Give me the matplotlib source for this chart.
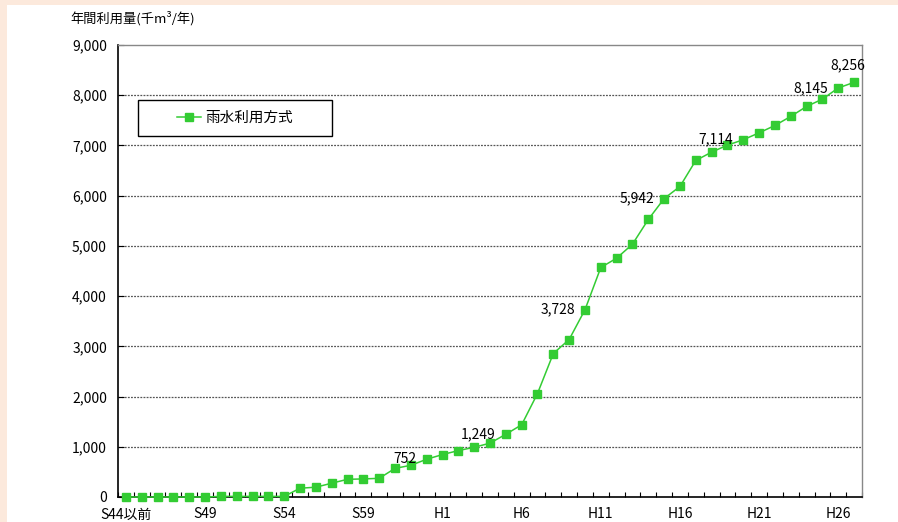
import matplotlib
matplotlib.use("Agg")
import matplotlib.pyplot as plt
from matplotlib.patches import Rectangle

FONT = ['Noto Sans CJK JP', 'DejaVu Sans']
plt.rcParams['font.family'] = FONT

# ---- data ----
years = (["S44以前"] + [f"S{n}" for n in range(45, 64)] +
         [f"H{n}" for n in range(1, 28)])
values = [0, 0, 0, 0, 0, 0, 12, 12, 12, 12, 12,
          175, 195, 275, 352, 360, 372, 570, 631, 752,
          845, 924, 990, 1072, 1249, 1438, 2060, 2857, 3136, 3728,
          4570, 4755, 5034, 5526, 5942, 6183, 6701, 6867, 7006, 7114,
          7251, 7398, 7578, 7777, 7922, 8145, 8256]
tick_labels = ["S44以前", "S49", "S54", "S59", "H1", "H6", "H11", "H16", "H21", "H26"]
annotated = ["S63", "H5", "H10", "H15", "H20", "H26", "H27"]
series_name = "雨水利用方式"
y_title = "年間利用量(千m³/年)"

W, H = 898, 522
fig = plt.figure(figsize=(W / 100, H / 100), dpi=100)
fig.patch.set_facecolor("white")
# peach border strips
fig.patches.append(Rectangle((0, 0), 7 / W, 1, transform=fig.transFigure,
                             facecolor="#FCE9DC", edgecolor="none", zorder=0))
fig.patches.append(Rectangle((0, 1 - 5 / H), 1, 5 / H, transform=fig.transFigure,
                             facecolor="#FCE9DC", edgecolor="none", zorder=0))

left, right, top, bottom = 118, 862, 45, 497
ax = fig.add_axes([left / W, 1 - bottom / H, (right - left) / W, (bottom - top) / H])

x = list(range(len(years)))
green = "#33CC33"
ax.plot(x, values, color=green, lw=1.1, marker="s", markersize=5.8,
        markerfacecolor=green, markeredgecolor=green, label=series_name,
        zorder=3, clip_on=False)

ax.set_xlim(-0.5, len(years) - 0.5)
ax.set_ylim(0, 9000)

# y axis
yt = list(range(0, 9001, 1000))
ax.set_yticks(yt)
ax.set_yticklabels([f"{v:,}" for v in yt], fontsize=10, family=FONT)
ax.tick_params(axis="y", direction="in", length=4, width=0.8, pad=8, colors="black")
for v in yt[1:-1]:
    ax.axhline(v, color="#555555", lw=0.9, ls=(0, (1.5, 1)), zorder=1)

# x axis
major = [years.index(t) for t in tick_labels]
ax.set_xticks(major)
ax.set_xticklabels(tick_labels, fontsize=10, family=FONT)
ax.set_xticks([i + 0.5 for i in range(-1, len(years))], minor=True)
ax.tick_params(axis="x", which="major", length=0, pad=7.5)
ax.tick_params(axis="x", which="minor", direction="in", length=3.5, width=0.8)

for s in ["left", "bottom"]:
    ax.spines[s].set_color("black")
    ax.spines[s].set_linewidth(1.2)
for s in ["top", "right"]:
    ax.spines[s].set_color("#888888")
    ax.spines[s].set_linewidth(1.0)

# annotations
for lab in annotated:
    i = years.index(lab)
    v = values[i]
    if i == len(years) - 1:
        ax.annotate(f"{v:,}", (i, v), xytext=(-6, 17), textcoords="offset pixels",
                    ha="center", va="center", fontsize=10, family=FONT)
    else:
        ax.annotate(f"{v:,}", (i, v), xytext=(-10, 0), textcoords="offset pixels",
                    ha="right", va="center", fontsize=10, family=FONT)

# legend: framed box drawn manually, legend content centred inside
bx0, bx1, by0, by1 = 138, 332, 100, 136
def fx(px):
    return (px - left) / (right - left)
def fy(py):
    return 1 - (py - top) / (bottom - top)
ax.add_patch(Rectangle((fx(bx0), fy(by1)), fx(bx1) - fx(bx0), fy(by0) - fy(by1),
                       transform=ax.transAxes, facecolor="white", edgecolor="black",
                       lw=1.0, zorder=4))
leg = ax.legend(loc="center", bbox_to_anchor=((fx(bx0) + fx(bx1)) / 2, (fy(by0) + fy(by1)) / 2),
                frameon=False, handlelength=1.7, borderpad=0, borderaxespad=0,
                handletextpad=0.3, prop={'family': FONT, 'size': 10.5})
leg.set_zorder(5)

fig.text(70 / W, 1 - 18 / H, y_title, fontsize=9.5, family=FONT, ha="left", va="center")

fig.savefig("out.png", dpi=100, facecolor=fig.get_facecolor())
